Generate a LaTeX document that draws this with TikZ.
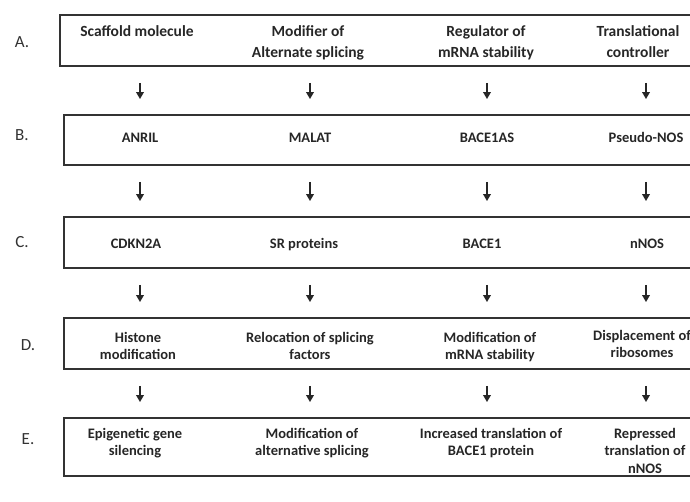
\documentclass[tikz,border=0pt]{standalone}
\usepackage{fontspec}
\setmainfont{Carlito}
\usetikzlibrary{arrows.meta,positioning}

\tikzset{
    rowbox/.style={draw=black!80, line width=1.8pt, rectangle, inner sep=0pt},
    toptxt/.style={font=\fontsize{15.5}{21}\selectfont\bfseries, text=black!85, align=center, anchor=north, inner sep=0pt},
    multitxt/.style={font=\fontsize{14.5}{17.5}\selectfont\bfseries, text=black!85, align=center, anchor=north, inner sep=0pt},
    onetxt/.style={font=\fontsize{14.5}{17.5}\selectfont\bfseries, text=black!85, anchor=base, inner sep=0pt},
    rowlabel/.style={font=\fontsize{17}{17}\selectfont, text=black!80},
    arr/.style={-{Triangle[length=7pt,width=7.5pt]}, line width=1.7pt, draw=black!85, shorten <=16pt, shorten >=15pt}
}

\begin{document}
\begin{tikzpicture}[x=1pt, y=-1pt]
        \useasboundingbox (0,0) rectangle (690,502);

        % the five rows
        \node (A) [rowbox, minimum width=634pt, minimum height=51pt] at (377,40.5) {};
        \node (B) [rowbox, minimum width=630pt, minimum height=50pt] at (379,140) {};
        \node (C) [rowbox, minimum width=630pt, minimum height=51pt] at (379,242.5) {};
        \node (D) [rowbox, minimum width=630pt, minimum height=51pt] at (379,343.5) {};
        \node (E) [rowbox, minimum width=630pt, minimum height=58pt] at (379,447) {};

        \node (lA) [rowlabel] at (22,42) {A.};
        \node (lB) [rowlabel] at (22,135) {B.};
        \node (lC) [rowlabel] at (22,242) {C.};
        \node (lD) [rowlabel] at (28,345) {D.};
        \node (lE) [rowlabel] at (28,439) {E.};

        % A. role
        \node (a1) [toptxt] at (137,25.5) {Scaffold molecule};
        \node (a2) [toptxt] at (308,25.5) {Modifier of\\Alternate splicing};
        \node (a3) [toptxt] at (486,25.5) {Regulator of\\mRNA stability};
        \node (a4) [toptxt] at (638,25.5) {Translational\\controller};
        % B. lncRNA
        \node (b1) [onetxt] at (140,142.6) {ANRIL};
        \node (b2) [onetxt] at (310,142.6) {MALAT};
        \node (b3) [onetxt] at (487,142.6) {BACE1AS};
        \node (b4) [onetxt] at (646,142.6) {Pseudo-NOS};
        % C. target
        \node (c1) [onetxt] at (136,248.6) {CDKN2A};
        \node (c2) [onetxt] at (304,248.6) {SR proteins};
        \node (c3) [onetxt] at (482,248.6) {BACE1};
        \node (c4) [onetxt] at (647,248.6) {nNOS};
        % D. mechanism
        \node (d1) [multitxt] at (138,332) {Histone\\modification};
        \node (d2) [multitxt] at (310,332) {Relocation of splicing\\factors};
        \node (d3) [multitxt] at (490,332) {Modification of\\mRNA stability};
        \node (d4) [multitxt] at (642,330) {Displacement of\\ribosomes};
        % E. outcome
        \node (e1) [multitxt] at (135,428) {Epigenetic gene\\silencing};
        \node (e2) [multitxt] at (312,428) {Modification of\\alternative splicing};
        \node (e3) [multitxt] at (491,428) {Increased translation of\\BACE1 protein};
        \node (e4) [multitxt] at (645,428) {Repressed\\translation of\\nNOS};

        \draw[arr] (A.south -| b1) -- (B.north -| b1);
        \draw[arr] (A.south -| b2) -- (B.north -| b2);
        \draw[arr] (A.south -| b3) -- (B.north -| b3);
        \draw[arr] (A.south -| b4) -- (B.north -| b4);
        %
        \draw[arr] (B.south -| b1) -- (C.north -| b1);
        \draw[arr] (B.south -| b2) -- (C.north -| b2);
        \draw[arr] (B.south -| b3) -- (C.north -| b3);
        \draw[arr] (B.south -| b4) -- (C.north -| b4);
        %
        \draw[arr] (C.south -| b1) -- (D.north -| b1);
        \draw[arr] (C.south -| b2) -- (D.north -| b2);
        \draw[arr] (C.south -| b3) -- (D.north -| b3);
        \draw[arr] (C.south -| b4) -- (D.north -| b4);
        %
        \draw[arr] (D.south -| b1) -- (E.north -| b1);
        \draw[arr] (D.south -| b2) -- (E.north -| b2);
        \draw[arr] (D.south -| b3) -- (E.north -| b3);
        \draw[arr] (D.south -| b4) -- (E.north -| b4);
    \end{tikzpicture}
\end{document}
